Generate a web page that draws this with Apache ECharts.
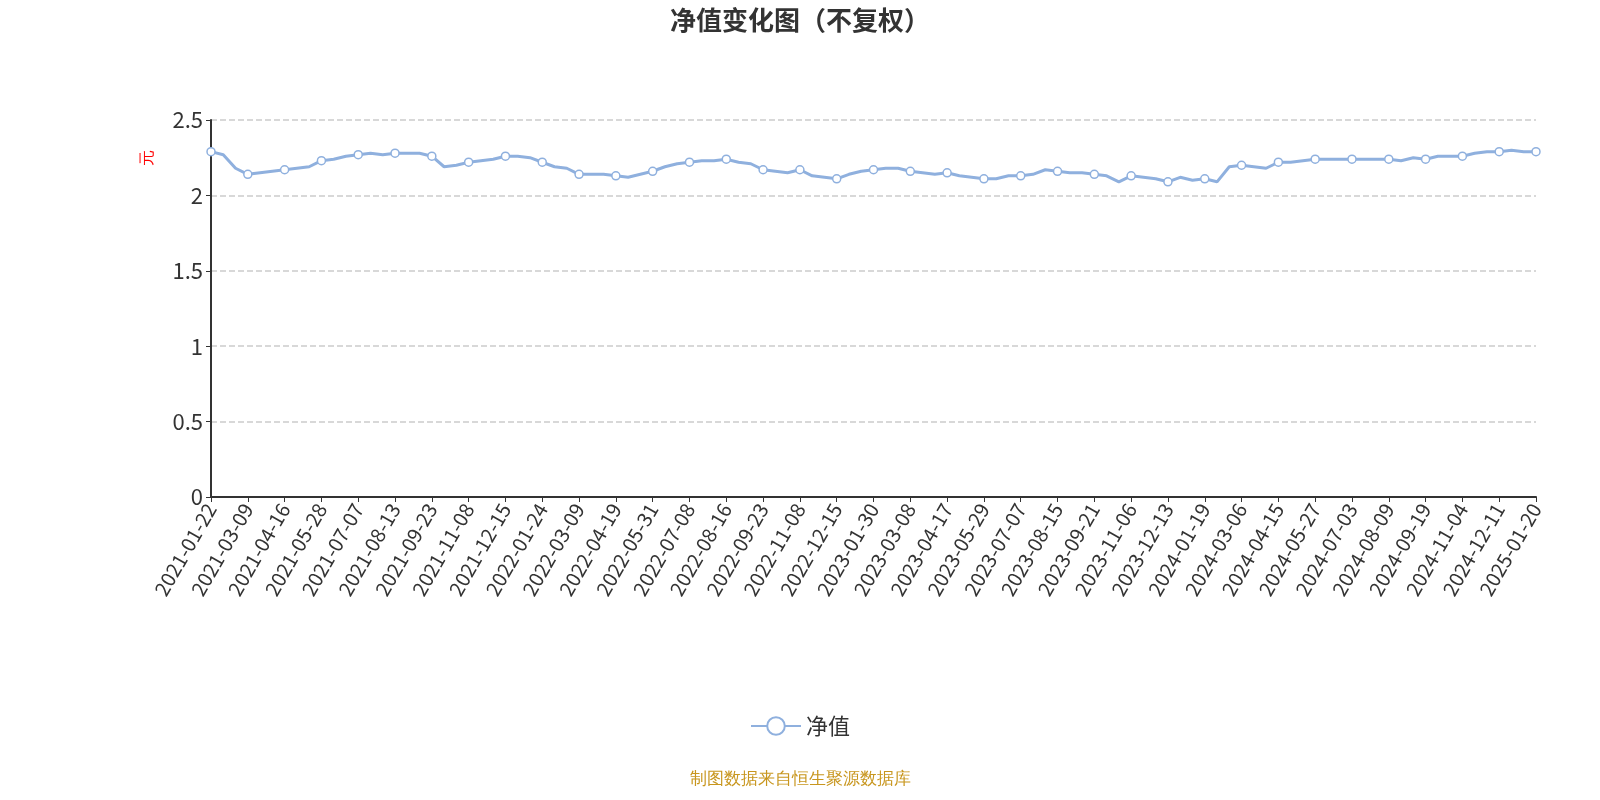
<!DOCTYPE html>
<html><head><meta charset="utf-8">
<script src="https://cdn.jsdelivr.net/npm/echarts@6/dist/echarts.min.js"></script>
<style>html,body{margin:0;padding:0}#c{width:1600px;height:800px}</style></head>
<body><div id="c"></div>
<script>
const labelDates=["2021-01-22","2021-03-09","2021-04-16","2021-05-28","2021-07-07","2021-08-13","2021-09-23","2021-11-08","2021-12-15","2022-01-24","2022-03-09","2022-04-19","2022-05-31","2022-07-08","2022-08-16","2022-09-23","2022-11-08","2022-12-15","2023-01-30","2023-03-08","2023-04-17","2023-05-29","2023-07-07","2023-08-15","2023-09-21","2023-11-06","2023-12-13","2024-01-19","2024-03-06","2024-04-15","2024-05-27","2024-07-03","2024-08-09","2024-09-19","2024-11-04","2024-12-11","2025-01-20"];
const labelValues=[2.29,2.14,2.17,2.23,2.27,2.28,2.26,2.22,2.26,2.22,2.14,2.13,2.16,2.22,2.24,2.17,2.17,2.11,2.17,2.16,2.15,2.11,2.13,2.16,2.14,2.13,2.09,2.11,2.20,2.22,2.24,2.24,2.24,2.24,2.26,2.29,2.29];
const midValues=[[2.27,2.18],[2.15,2.16],[2.18,2.19],[2.24,2.26],[2.28,2.27],[2.28,2.28],[2.19,2.20],[2.23,2.24],[2.26,2.25],[2.19,2.18],[2.14,2.14],[2.12,2.14],[2.19,2.21],[2.23,2.23],[2.22,2.21],[2.16,2.15],[2.13,2.12],[2.14,2.16],[2.18,2.18],[2.15,2.14],[2.13,2.12],[2.11,2.13],[2.14,2.17],[2.15,2.15],[2.13,2.09],[2.12,2.11],[2.12,2.10],[2.09,2.19],[2.19,2.18],[2.22,2.23],[2.24,2.24],[2.24,2.24],[2.23,2.25],[2.26,2.26],[2.28,2.29],[2.30,2.29]];
const cats=[],vals=[];
function fmt(t){return new Date(t).toISOString().slice(0,10);}
for(let i=0;i<labelDates.length;i++){
  cats.push(labelDates[i]);vals.push(labelValues[i]);
  if(i<midValues.length){
    const a=Date.parse(labelDates[i]),b=Date.parse(labelDates[i+1]);
    for(let k=1;k<=2;k++){cats.push(fmt(a+(b-a)*k/3));vals.push(midValues[i][k-1]);}
  }
}
const ch=echarts.init(document.getElementById('c'));
ch.setOption({
  textStyle:{fontFamily:'"Noto Sans CJK SC","Noto Sans",sans-serif'},
  title:{text:'净值变化图（不复权）',left:'center',top:2,textStyle:{fontSize:26,fontWeight:'bold',color:'#333'}},
  grid:{left:211,right:64,top:120,bottom:303},
  legend:{bottom:58,itemWidth:50,itemHeight:22,textStyle:{fontSize:22,color:'#333'},data:['净值']},
  graphic:[{type:'text',left:'center',bottom:12,style:{text:'制图数据来自恒生聚源数据库',fill:'#c8961e',fontSize:17}},
    {type:'text',left:140,top:150,rotation:Math.PI/2,style:{text:'元',fill:'red',fontSize:16}}],
  xAxis:{type:'category',data:cats,boundaryGap:false,
    axisLine:{lineStyle:{color:'#333',width:2}},
    axisTick:{interval:2,lineStyle:{color:'#333'}},
    axisLabel:{interval:2,rotate:60,fontSize:20,color:'#333',margin:8}},
  yAxis:{type:'value',min:0,max:2.5,interval:0.5,
    axisLine:{show:true,lineStyle:{color:'#333',width:2}},axisTick:{show:true},
    axisLabel:{fontSize:22,color:'#333'},
    splitLine:{lineStyle:{type:'dashed',color:'#ccc',width:1.5}}},
  series:[{name:'净值',type:'line',data:vals,showAllSymbol:true,symbol:'circle',
    symbolSize:(v,p)=>p.dataIndex%3===0?8:0,
    itemStyle:{color:'#fff',borderColor:'#8fb0de',borderWidth:1.5},
    lineStyle:{color:'#8fb0de',width:3}}]
});
</script></body></html>
